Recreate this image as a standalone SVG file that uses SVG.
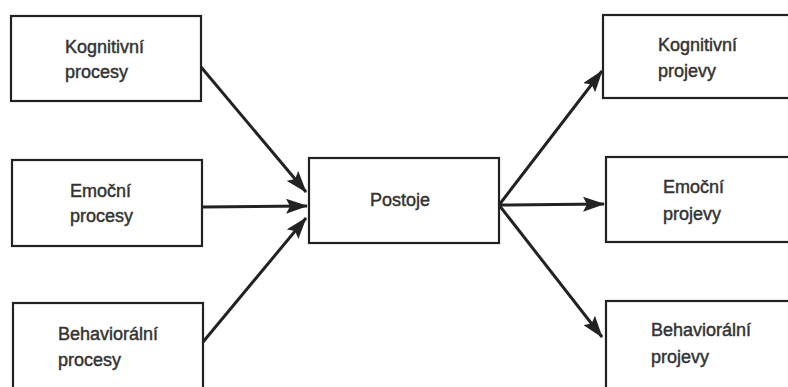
<svg xmlns="http://www.w3.org/2000/svg" width="788" height="387" viewBox="0 0 788 387">
<style>
.box{fill:#fff;stroke:#222;stroke-width:2.2}
.t{font-family:"Liberation Sans",Arial,sans-serif;font-size:18px;fill:#333;stroke:#333;stroke-width:0.45}
.c line{stroke:#222;stroke-width:3}
</style>
<defs>
<marker id="ah" viewBox="0 0 22 15" refX="21" refY="7.5" markerWidth="22" markerHeight="15" markerUnits="userSpaceOnUse" orient="auto">
<path d="M0,0 L22,7.5 L0,15 L4,7.5 Z" fill="#222"/>
</marker>
</defs>
<rect width="788" height="387" fill="#fff"/>
<g class="c">
<line x1="201" y1="67" x2="306" y2="192" marker-end="url(#ah)"/>
<line x1="202" y1="207" x2="307" y2="206" marker-end="url(#ah)"/>
<line x1="203" y1="342" x2="306" y2="218" marker-end="url(#ah)"/>
<line x1="499" y1="205" x2="602" y2="71" marker-end="url(#ah)"/>
<line x1="499" y1="205" x2="604" y2="204" marker-end="url(#ah)"/>
<line x1="499" y1="205" x2="602" y2="337" marker-end="url(#ah)"/>
</g>
<g id="n1"><rect class="box" x="11" y="16" width="190" height="85"/><text class="t" x="65" y="53">Kognitivní</text><text class="t" x="65" y="78">procesy</text></g>
<g id="n2"><rect class="box" x="12" y="160" width="190" height="86"/><text class="t" x="70" y="197">Emoční</text><text class="t" x="70" y="222">procesy</text></g>
<g id="n3"><rect class="box" x="13" y="303" width="190" height="90"/><text class="t" x="58" y="340">Behaviorální</text><text class="t" x="58" y="366">procesy</text></g>
<g id="n4"><rect class="box" x="309" y="158" width="190" height="85"/><text class="t" x="370" y="206">Postoje</text></g>
<g id="n5"><rect class="box" x="603" y="15" width="195" height="83"/><text class="t" x="658" y="51">Kognitivní</text><text class="t" x="658" y="77">projevy</text></g>
<g id="n6"><rect class="box" x="606" y="157" width="195" height="85"/><text class="t" x="663" y="193">Emoční</text><text class="t" x="663" y="220">projevy</text></g>
<g id="n7"><rect class="box" x="606" y="301" width="195" height="95"/><text class="t" x="651" y="336">Behaviorální</text><text class="t" x="651" y="363">projevy</text></g>
</svg>
